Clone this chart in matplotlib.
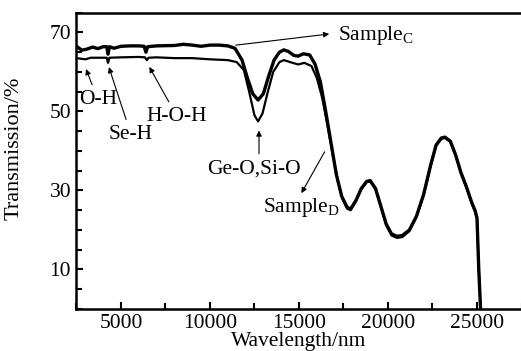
import matplotlib
matplotlib.use("Agg")
import matplotlib.pyplot as plt
from matplotlib.ticker import MultipleLocator

plt.rcParams['font.family'] = ['Liberation Serif', 'DejaVu Serif']
plt.rcParams['mathtext.fontset'] = 'custom'
plt.rcParams['mathtext.rm'] = 'Liberation Serif'

# Sample C (upper curve), wavelength in nm / transmission in %
wl_c = [2500, 2800, 3100, 3400, 3700, 4000, 4200, 4270, 4350, 4600, 5000, 5500,
        6000, 6300, 6400, 6500, 7000, 8000, 8500, 9000, 9500, 10000, 10500,
        11000, 11400, 11800, 12100, 12400, 12700, 13000, 13300, 13600, 13900,
        14150, 14400, 14700, 14950, 15250, 15600, 15900, 16200, 16500, 16800,
        17100, 17400, 17700, 17900, 18200, 18500, 18800, 19000, 19300, 19600,
        19900, 20200, 20500, 20800, 21200, 21600, 22000, 22400, 22700, 23000,
        23200, 23500, 23800, 24100, 24400, 24700, 24900, 25000, 25100, 25200]
tr_c = [66.5, 65.5, 65.8, 66.3, 65.9, 66.4, 66.4, 64.5, 66.4, 66.0, 66.5, 66.6,
        66.6, 66.5, 65.0, 66.4, 66.6, 66.7, 67.0, 66.8, 66.5, 66.8, 66.8,
        66.6, 66.0, 63.0, 58.5, 54.5, 52.9, 54.5, 59.0, 63.0, 65.0,
        65.6, 65.2, 64.2, 64.0, 64.6, 64.3, 62.0, 57.5, 50.0, 42.0,
        34.0, 28.5, 25.8, 25.3, 27.5, 30.5, 32.3, 32.5, 30.5, 26.0,
        21.5, 19.0, 18.4, 18.6, 20.0, 23.5, 29.0, 36.5, 41.5, 43.3,
        43.5, 42.5, 39.0, 34.5, 31.0, 27.0, 24.8, 23.0, 10.0, 0.0]

# Sample D (lower curve)
wl_d = [2500, 3000, 3300, 4000, 4200, 4270, 4350, 5000, 6000, 6350, 6450, 6550,
        7000, 8000, 9000, 10000, 11000, 11500, 11900, 12200, 12500, 12700,
        12950, 13250, 13550, 13900, 14150, 14500, 14950, 15300, 15700, 16000,
        16300, 16600, 16900, 17200, 17450, 17700, 17900, 18200, 18500, 18800,
        19000, 19300, 19600, 19900, 20200, 20500, 20800, 21200, 21600, 22000,
        22400, 22700, 23000, 23200, 23500, 23800, 24100, 24400, 24700, 24900,
        25000, 25100, 25200]
tr_d = [63.5, 63.2, 63.6, 63.6, 63.6, 62.3, 63.6, 63.7, 63.8, 63.7, 63.0, 63.6,
        63.7, 63.5, 63.5, 63.2, 63.0, 62.5, 60.5, 55.0, 49.0, 47.5,
        49.5, 55.0, 60.0, 62.5, 63.0, 62.5, 61.9, 62.3, 61.5, 58.5,
        53.5, 46.5, 39.0, 32.0, 27.8, 25.4, 25.0, 27.3, 30.3, 32.1,
        32.3, 30.3, 25.8, 21.2, 18.6, 18.0, 18.2, 19.7, 23.3, 28.8,
        36.3, 41.3, 43.1, 43.3, 42.3, 38.8, 34.3, 30.8, 26.8, 24.6,
        22.8, 10.0, 0.0]

fig = plt.figure(figsize=(5.21, 3.51), dpi=100)
ax = fig.add_axes([76 / 521, 42 / 351, 445.5 / 521, 296.3 / 351])

ax.plot(wl_c, tr_c, color='black', lw=2.4)
ax.plot(wl_d, tr_d, color='black', lw=1.6)

ax.set_xlim(2472, 27500)
ax.set_ylim(0, 75)
ax.xaxis.set_major_locator(MultipleLocator(5000))
ax.xaxis.set_minor_locator(MultipleLocator(2500))
ax.set_yticks([10, 30, 50, 70])
ax.yaxis.set_minor_locator(MultipleLocator(5))
ax.tick_params(which='both', direction='in', labelsize=15.5, width=1.5)
ax.tick_params(which='major', length=5)
ax.tick_params(which='minor', length=4)
for s in ['left', 'bottom', 'top']:
    ax.spines[s].set_linewidth(1.8)
ax.spines['right'].set_visible(False)

ax.set_xlabel('Wavelength/nm', fontsize=15.5)
ax.set_ylabel('Transmission/%', fontsize=16)
ax.xaxis.set_label_coords(0.499, -0.078)
ax.yaxis.set_label_coords(-0.117, 0.543)

fs = 15.5
arrow = dict(arrowstyle='-|>', color='black', lw=0.8, mutation_scale=8)
ax.annotate('O-H', xy=(2978, 61.4), xytext=(3700, 53), fontsize=fs,
            ha='center', va='center', arrowprops=arrow)
ax.annotate('Se-H', xy=(4270, 61.9), xytext=(5562, 44.2), fontsize=fs,
            ha='center', va='center', arrowprops=arrow)
ax.annotate('H-O-H', xy=(6517, 61.9), xytext=(8146, 48.7), fontsize=fs,
            ha='center', va='center', arrowprops=arrow)
ax.annotate('', xy=(12753, 45.9), xytext=(12753, 38.6), arrowprops=arrow)
ax.text(12472, 35.3, 'Ge-O,Si-O', fontsize=fs, ha='center', va='center')
ax.annotate('', xy=(16854, 69.7), xytext=(11292, 66.7), arrowprops=arrow)
ax.text(17190, 69.3, r'Sample$_\mathrm{C}$', fontsize=fs, ha='left', va='center')
ax.annotate('', xy=(15056, 28.7), xytext=(16517, 40.4), arrowprops=arrow)
ax.text(12978, 25.7, r'Sample$_\mathrm{D}$', fontsize=fs, ha='left', va='center')

fig.savefig('out.png', dpi=100)
